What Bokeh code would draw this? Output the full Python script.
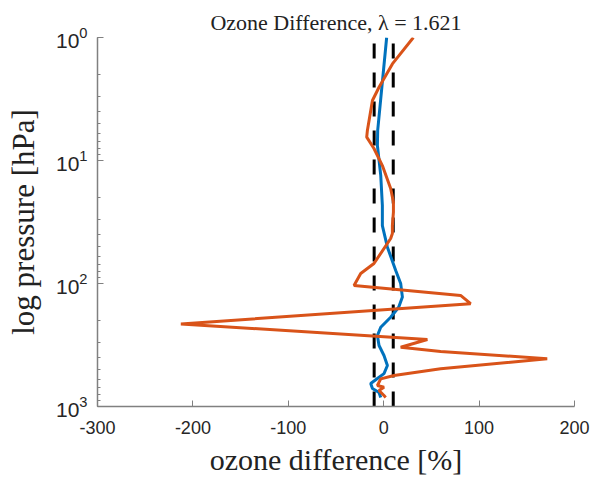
from bokeh.plotting import figure
from bokeh.models import Range1d, FixedTicker, LogTicker
from bokeh.embed import file_html
from bokeh.resources import INLINE

# ---- data ----
blue_x = [3.1, -6.3, -6.6, -3.1, -1.4, -1.4, 3.9, 12.6, 17.8, 19.6, 15.7, 7.3, -3.1,
          -6.6, -4.9, 0.3, 3.9, 0.3, -6.6, -13.6, -11.8, -4.9, -3.1]
blue_p = [1.0, 5.7, 7.55, 13.2, 23.2, 33.8, 50.7, 78.4, 100, 129, 156, 188, 227,
          265, 319, 385, 464, 540, 592, 650, 714, 770, 845]

orange_x = [31.1, 9.1, -4.9, -11.8, -17.1, -17.8, -10.2, -1.4, 7.3, 10.2, 10.2, 9.1, 9.1,
            7.3, -10.2, -24.1, -31.1, 80.6, 91.1, -212.6, 45.8, 17.8, 59.7, 171.4, 59.7,
            10.8, -3.1, -6.6, 0.3, -4.9, 0.3, 2.1]
orange_p = [1.0, 1.64, 2.54, 3.25, 5.7, 6.46, 7.99, 11.0, 16.9, 21.8, 26.3, 33.8, 39.2,
            43.1, 68.8, 83, 104, 125, 146, 213, 285, 330, 357, 409, 494,
            560, 596, 675, 697, 741, 815, 845]

bounds = [-10, 10]
p_limits = [1000, 1]
x_ticks = [-300, -200, -100, 0, 100, 200]
x_tick_labels = ["-300", "-200", "-100", "0", "100", "200"]

p = figure(width=594, height=478, output_backend="svg", toolbar_location=None,
           y_axis_type="log", x_range=Range1d(-300, 200),
           y_range=Range1d(p_limits[0], p_limits[1]),
           min_border_left=97, min_border_right=20, min_border_top=37, min_border_bottom=72,
           title="Ozone Difference, λ = 1.621")
p.outline_line_color = None
p.grid.visible = False
p.background_fill_color = "white"
p.border_fill_color = "white"

p.title.align = "center"
p.title.text_font = "Liberation Serif"
p.title.text_font_style = "normal"
p.title.text_font_size = "22px"
p.title.text_color = "#222222"
p.title.standoff = 6

for b in bounds:
    p.line([b, b], p_limits, line_color="black", line_width=3, line_dash="15 14")

p.line(blue_x, blue_p, line_color="#0072BD", line_width=3)
p.line(orange_x, orange_p, line_color="#D95319", line_width=3)

p.xaxis.ticker = FixedTicker(ticks=x_ticks, minor_ticks=[])
p.xaxis.major_label_overrides = {t: s for t, s in zip(x_ticks, x_tick_labels)}
p.yaxis.ticker = LogTicker(num_minor_ticks=10)

for ax in (p.xaxis[0], p.yaxis[0]):
    ax.axis_line_color = "#808080"
    ax.axis_line_width = 1.5
    ax.major_tick_line_color = "#808080"
    ax.minor_tick_line_color = "#808080"
    ax.major_tick_in = 6
    ax.major_tick_out = 0
    ax.minor_tick_in = 3
    ax.minor_tick_out = 0
    ax.major_label_text_font = "Liberation Sans"
    ax.major_label_text_color = "#262626"
    ax.axis_label_text_font = "Liberation Serif"
    ax.axis_label_text_font_style = "normal"
    ax.axis_label_text_font_size = "30px"
    ax.axis_label_text_color = "#222222"

p.xaxis.major_label_text_font_size = "18px"
p.yaxis.major_label_text_font_size = "21px"
p.yaxis.axis_label_text_font_size = "31px"
p.xaxis.axis_label = "ozone difference [%]"
p.yaxis.axis_label = "log pressure [hPa]"
p.xaxis.major_label_standoff = 14
p.xaxis.axis_label_standoff = 6
p.yaxis.major_label_standoff = 10
p.yaxis.axis_label_standoff = 12

open("out.html", "w").write(file_html(p, INLINE))
